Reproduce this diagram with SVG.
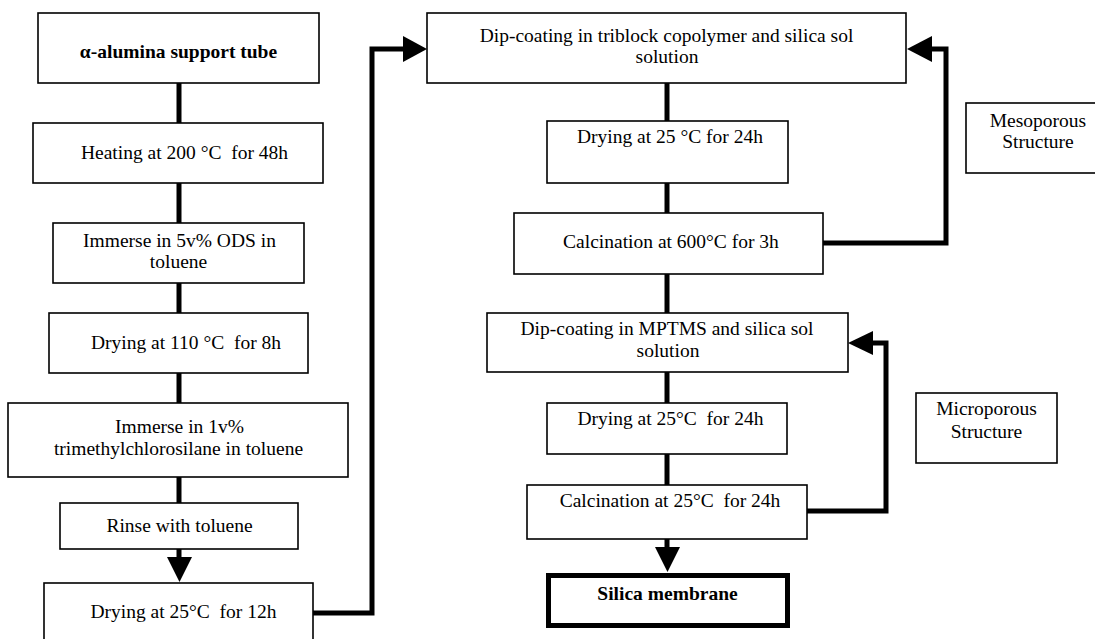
<svg xmlns="http://www.w3.org/2000/svg" width="1095" height="639" viewBox="0 0 1095 639">
<style>
.box{fill:#fff;stroke:#000;stroke-width:1.6}
.thick{fill:#fff;stroke:#000;stroke-width:5}
text{font-family:"Liberation Serif","Times New Roman",serif;font-size:19.5px;fill:#000;text-anchor:middle}
.b{font-weight:bold}
.ln{fill:none;stroke:#000;stroke-width:5}
.ah{fill:#000}
</style>
<rect width="1095" height="639" fill="#fff"/>
<g id="connectors">
<line class="ln" x1="179" y1="83" x2="179" y2="123"/>
<line class="ln" x1="179" y1="183" x2="179" y2="223"/>
<line class="ln" x1="179" y1="283" x2="179" y2="313"/>
<line class="ln" x1="179" y1="373" x2="179" y2="403"/>
<line class="ln" x1="179" y1="475" x2="179" y2="503"/>
<line class="ln" x1="179" y1="549" x2="179" y2="560"/>
<polygon class="ah" points="167,557 192,557 179.5,582"/>
<polyline class="ln" points="313,613 372,613 372,49 406,49"/>
<polygon class="ah" points="403,36 403,62 427,49"/>
<line class="ln" x1="667" y1="83" x2="667" y2="121"/>
<line class="ln" x1="667" y1="183" x2="667" y2="213"/>
<line class="ln" x1="667" y1="274" x2="667" y2="313"/>
<line class="ln" x1="667" y1="372" x2="667" y2="403"/>
<line class="ln" x1="667" y1="454" x2="667" y2="485"/>
<line class="ln" x1="667" y1="539" x2="667" y2="550"/>
<polygon class="ah" points="655,547 680,547 667.5,572"/>
<polyline class="ln" points="823,243 946,243 946,49 930,49"/>
<polygon class="ah" points="932,36 932,62 907,49"/>
<polyline class="ln" points="807,511 886,511 886,343 871,343"/>
<polygon class="ah" points="873,331 873,355 848,343"/>
</g>
<g id="n1"><rect class="box" x="38" y="13" width="281" height="70"/><text class="b" x="178.5" y="58">α-alumina support tube</text></g>
<g id="n2"><rect class="box" x="33" y="123" width="290" height="60"/><text x="184.5" y="159" xml:space="preserve">Heating at 200 °C  for 48h</text></g>
<g id="n3"><rect class="box" x="53" y="223" width="251" height="60"/><text x="179.5" y="247">Immerse in 5v% ODS in</text><text x="178.5" y="268">toluene</text></g>
<g id="n4"><rect class="box" x="49" y="313" width="259" height="60"/><text x="186" y="349" xml:space="preserve">Drying at 110 °C  for 8h</text></g>
<g id="n5"><rect class="box" x="8" y="403" width="340" height="74"/><text x="179.5" y="433">Immerse in 1v%</text><text x="178.5" y="455">trimethylchlorosilane in toluene</text></g>
<g id="n6"><rect class="box" x="60" y="503" width="238" height="46"/><text x="179.5" y="532">Rinse with toluene</text></g>
<g id="n7"><rect class="box" x="44" y="583" width="269" height="70"/><text x="183.5" y="618" xml:space="preserve">Drying at 25°C  for 12h</text></g>
<g id="n8"><rect class="box" x="427" y="13" width="479" height="70"/><text x="666.5" y="42">Dip-coating in triblock copolymer and silica sol</text><text x="667" y="63">solution</text></g>
<g id="n9"><rect class="box" x="547" y="121" width="241" height="62"/><text x="670" y="143">Drying at 25 °C for 24h</text></g>
<g id="n10"><rect class="box" x="514" y="213" width="309" height="61"/><text x="671" y="248">Calcination at 600°C for 3h</text></g>
<g id="n11"><rect class="box" x="487" y="313" width="361" height="59"/><text x="667" y="335">Dip-coating in MPTMS and silica sol</text><text x="668" y="357">solution</text></g>
<g id="n12"><rect class="box" x="547" y="403" width="240" height="51"/><text x="670.5" y="425" xml:space="preserve">Drying at 25°C  for 24h</text></g>
<g id="n13"><rect class="box" x="527" y="485" width="280" height="54"/><text x="670" y="507" xml:space="preserve">Calcination at 25°C  for 24h</text></g>
<g id="n14"><rect class="thick" x="548.5" y="575.5" width="239" height="50"/><text class="b" x="667.5" y="600">Silica membrane</text></g>
<g id="n15"><rect class="box" x="966" y="103" width="150" height="70"/><text x="1038" y="127">Mesoporous</text><text x="1038" y="148">Structure</text></g>
<g id="n16"><rect class="box" x="916" y="393" width="141" height="70"/><text x="986.5" y="415">Microporous</text><text x="986.5" y="438">Structure</text></g>
</svg>
